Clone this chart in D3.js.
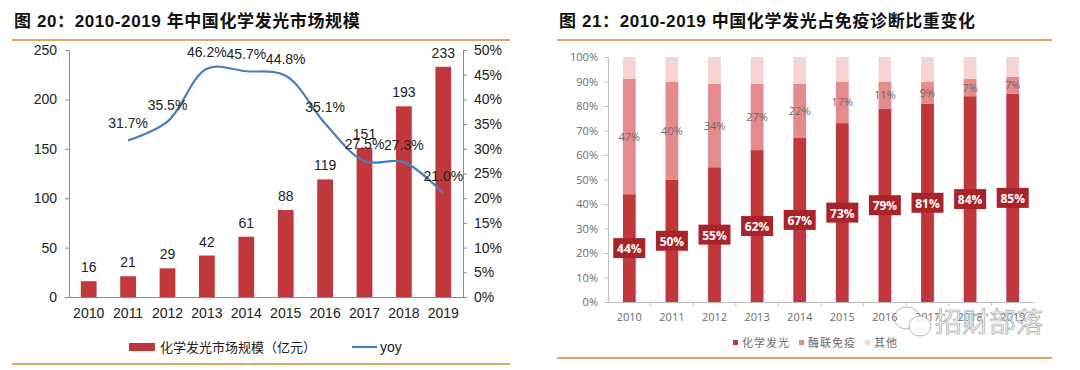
<!DOCTYPE html>
<html lang="zh">
<head>
  <meta charset="UTF-8">
  <title>化学发光市场规模</title>
  <script src="https://d3js.org/d3.v7.min.js"></script>
  <style>
    body { margin: 0; background: #fff; }
    svg { display: block; }
  </style>
</head>
<body>
  <svg id="chart"></svg>

  <script>
    // data
    const years = ["2010", "2011", "2012", "2013", "2014", "2015", "2016", "2017", "2018", "2019"];
    const marketSize = [16, 21, 29, 42, 61, 88, 119, 151, 193, 233];
    const yoyYears = ["2011", "2012", "2013", "2014", "2015", "2016", "2017", "2018", "2019"];
    const yoy = [31.7, 35.5, 46.2, 45.7, 44.8, 35.1, 27.5, 27.3, 21.0];

    const clShare = [44, 50, 55, 62, 67, 73, 79, 81, 84, 85];
    const elisaShare = [47, 40, 34, 27, 22, 17, 11, 9, 7, 7];
    const otherShare = [9, 10, 11, 11, 11, 10, 10, 10, 9, 8];

    const leftTicks = [0, 50, 100, 150, 200, 250];
    const rightTicks = [0, 5, 10, 15, 20, 25, 30, 35, 40, 45, 50];
    const shareTicks = [0, 10, 20, 30, 40, 50, 60, 70, 80, 90, 100];

    const svg = d3.select("#chart").attr("width", 1080).attr("height", 370);
    const numFont = "'Liberation Sans', Arial, sans-serif";
    const cjkFont = "'Noto Sans CJK SC', sans-serif";
    const titleFont = "'Liberation Sans', 'Noto Sans CJK SC', sans-serif";
    const orange = "#E0A565";
    const axisGray = "#8c8c8c";

    // ---------- titles and frame lines ----------
    svg.append("text").attr("x", 14).attr("y", 27)
      .attr("font-family", titleFont).attr("font-weight", "bold").attr("font-size", 17)
      .attr("letter-spacing", 0.6)
      .attr("fill", "#111").text("图 20：2010-2019 年中国化学发光市场规模");
    svg.append("text").attr("x", 559).attr("y", 27)
      .attr("font-family", titleFont).attr("font-weight", "bold").attr("font-size", 17)
      .attr("letter-spacing", 0.6)
      .attr("fill", "#111").text("图 21：2010-2019 中国化学发光占免疫诊断比重变化");

    [[12, 510, 40], [12, 510, 364], [557, 1052, 40], [557, 1052, 358]].forEach(l => {
      svg.append("line").attr("x1", l[0]).attr("x2", l[1]).attr("y1", l[2]).attr("y2", l[2])
        .attr("stroke", orange).attr("stroke-width", 2);
    });

    // ---------- left chart: bars + yoy line ----------
    const x1 = d3.scaleBand().domain(years).range([69, 463]).paddingInner(0.6).paddingOuter(0.3);
    const yL = d3.scaleLinear().domain([0, 250]).range([297, 50]);
    const yR = d3.scaleLinear().domain([0, 50]).range([297, 50]);

    const left = svg.append("g");

    const axL = left.append("g").attr("transform", "translate(69,0)")
      .call(d3.axisLeft(yL).tickValues(leftTicks).tickSize(4).tickPadding(8));
    const axR = left.append("g").attr("transform", "translate(463,0)")
      .call(d3.axisRight(yR).tickValues(rightTicks).tickSize(4).tickPadding(7).tickFormat(d => d + "%"));
    const axB = left.append("g").attr("transform", "translate(0,297)")
      .call(d3.axisBottom(x1).tickSize(0).tickPadding(11));
    [axL, axR, axB].forEach(a => {
      a.selectAll("path, line").attr("stroke", axisGray);
      a.selectAll("text").attr("font-family", numFont).attr("font-size", 14).attr("fill", "#222");
    });

    left.selectAll("rect.bar").data(marketSize).enter().append("rect")
      .attr("class", "bar")
      .attr("x", (d, i) => x1(years[i]))
      .attr("width", x1.bandwidth())
      .attr("y", d => yL(d))
      .attr("height", d => yL(0) - yL(d))
      .attr("fill", "#C0383B");

    left.selectAll("text.barlab").data(marketSize).enter().append("text")
      .attr("class", "barlab")
      .attr("x", (d, i) => x1(years[i]) + x1.bandwidth() / 2)
      .attr("y", d => yL(d) - 9)
      .attr("text-anchor", "middle")
      .attr("font-family", numFont).attr("font-size", 14).attr("fill", "#222")
      .text(d => d);

    const cx = y => x1(y) + x1.bandwidth() / 2;
    const line = d3.line()
      .x((d, i) => cx(yoyYears[i]))
      .y(d => yR(d))
      .curve(d3.curveCatmullRom.alpha(0.5));

    left.append("path").datum(yoy)
      .attr("d", line)
      .attr("fill", "none")
      .attr("stroke", "#4A7EBB")
      .attr("stroke-width", 2.2);

    left.selectAll("text.yoylab").data(yoy).enter().append("text")
      .attr("class", "yoylab")
      .attr("x", (d, i) => cx(yoyYears[i]))
      .attr("y", d => yR(d) - 12)
      .attr("text-anchor", "middle")
      .attr("font-family", numFont).attr("font-size", 14).attr("fill", "#222")
      .text(d => d.toFixed(1) + "%");

    // legend
    left.append("rect").attr("x", 129).attr("y", 343).attr("width", 26).attr("height", 8).attr("fill", "#C0383B");
    left.append("text").attr("x", 160).attr("y", 352)
      .attr("font-family", cjkFont).attr("font-size", 13).attr("fill", "#222")
      .text("化学发光市场规模（亿元）");
    left.append("line").attr("x1", 352).attr("x2", 377).attr("y1", 347).attr("y2", 347)
      .attr("stroke", "#4A7EBB").attr("stroke-width", 2.2);
    left.append("text").attr("x", 380).attr("y", 352)
      .attr("font-family", numFont).attr("font-size", 14).attr("fill", "#222").text("yoy");

    // ---------- right chart: 100% stacked bars ----------
    const x2 = d3.scaleBand().domain(years).range([608, 1034]).paddingInner(0.7).paddingOuter(0.35);
    const y2 = d3.scaleLinear().domain([0, 100]).range([302, 57]);
    const right = svg.append("g");

    const ay2 = right.append("g").attr("transform", "translate(608,0)")
      .call(d3.axisLeft(y2).tickValues(shareTicks).tickSize(4).tickPadding(6).tickFormat(d => d + "%"));
    const xb2 = d3.scaleBand().domain(years).range([608, 1034]);
    const ax2 = right.append("g").attr("transform", "translate(0,302)")
      .call(d3.axisBottom(xb2).tickSize(0).tickPadding(11));
    // category separators on the x axis
    ax2.selectAll("line.sep").data(years.slice(1)).enter().append("line")
      .attr("class", "sep")
      .attr("x1", d => xb2(d)).attr("x2", d => xb2(d)).attr("y1", 0).attr("y2", 4);
    [ay2, ax2].forEach(a => {
      a.selectAll("path, line").attr("stroke", "#bfbfbf");
      a.selectAll("text").attr("font-family", "'Open Sans', 'DejaVu Sans', sans-serif")
        .attr("font-size", 11).attr("fill", "#6b6b6b");
    });

    const rows = years.map((y, i) => ({ year: y, cl: clShare[i], elisa: elisaShare[i], other: otherShare[i] }));
    const stack = d3.stack().keys(["cl", "elisa", "other"])(rows);
    const colors = { cl: "#C0383B", elisa: "#E48B8D", other: "#F6D4D4" };

    right.selectAll("g.layer").data(stack).enter().append("g")
      .attr("class", "layer")
      .attr("fill", d => colors[d.key])
      .selectAll("rect").data(d => d).enter().append("rect")
      .attr("x", d => x2(d.data.year))
      .attr("width", x2.bandwidth())
      .attr("y", d => y2(d[1]))
      .attr("height", d => y2(d[0]) - y2(d[1]));

    // 化学发光 labels (boxed)
    const clLab = right.selectAll("g.cllab").data(stack[0]).enter().append("g")
      .attr("class", "cllab")
      .attr("transform", d => `translate(${x2(d.data.year) + x2.bandwidth() / 2},${y2((d[0] + d[1]) / 2)})`);
    clLab.append("rect").attr("x", -16).attr("y", -10).attr("width", 32).attr("height", 20).attr("fill", "#A8242A");
    clLab.append("text").attr("y", 5).attr("text-anchor", "middle")
      .attr("font-family", "'Open Sans', sans-serif").attr("font-size", 12).attr("font-weight", "bold")
      .attr("fill", "#fff").text(d => d.data.cl + "%");

    // 酶联免疫 labels
    right.selectAll("text.elab").data(stack[1]).enter().append("text")
      .attr("class", "elab")
      .attr("x", d => x2(d.data.year) + x2.bandwidth() / 2)
      .attr("y", d => y2((d[0] + d[1]) / 2) + 4)
      .attr("text-anchor", "middle")
      .attr("font-family", "'Open Sans', sans-serif").attr("font-size", 11).attr("fill", "#6b6b6b")
      .text(d => d.data.elisa + "%");

    // legend
    const leg = [["化学发光", colors.cl, 733], ["酶联免疫", colors.elisa, 799], ["其他", colors.other, 865]];
    leg.forEach(l => {
      right.append("rect").attr("x", l[2]).attr("y", 340).attr("width", 5).attr("height", 5).attr("fill", l[1]);
      right.append("text").attr("x", l[2] + 9).attr("y", 347)
        .attr("font-family", cjkFont).attr("font-size", 11).attr("letter-spacing", 1)
        .attr("fill", "#6b6b6b").text(l[0]);
    });

    // watermark
    const wm = svg.append("g").attr("opacity", 0.85);
    wm.append("ellipse").attr("cx", 907).attr("cy", 318).attr("rx", 13).attr("ry", 11)
      .attr("fill", "none").attr("stroke", "#aaa").attr("stroke-width", 1);
    wm.append("ellipse").attr("cx", 920).attr("cy", 326).attr("rx", 11).attr("ry", 10)
      .attr("fill", "#fff").attr("stroke", "#aaa").attr("stroke-width", 1);
    wm.append("text").attr("x", 935).attr("y", 332)
      .attr("font-family", cjkFont).attr("font-size", 27)
      .attr("fill", "#f4f4f4").attr("stroke", "#999").attr("stroke-width", 0.7)
      .text("招财部落");
  </script>
</body>
</html>
